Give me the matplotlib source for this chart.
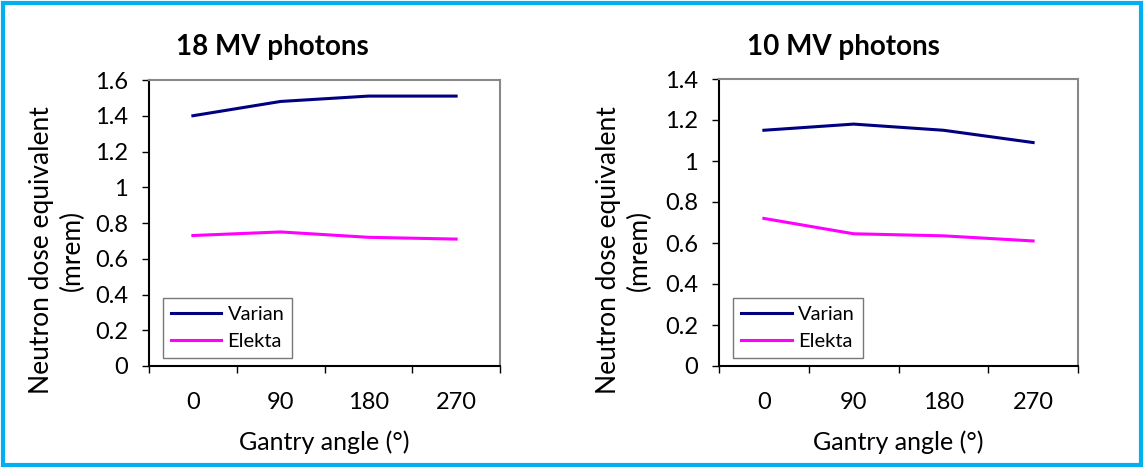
import matplotlib.pyplot as plt
from matplotlib.patches import Rectangle

angles = ["0", "90", "180", "270"]
varian_18 = [1.40, 1.48, 1.51, 1.51]
elekta_18 = [0.73, 0.75, 0.72, 0.71]
varian_10 = [1.15, 1.18, 1.15, 1.09]
elekta_10 = [0.72, 0.645, 0.635, 0.61]

plt.rcParams['font.family'] = ['Lato', 'DejaVu Sans']

W, H = 1144, 467
fig = plt.figure(figsize=(W / 100, H / 100), dpi=100)

def px(x0, y0, x1, y1):
    return [x0 / W, 1 - y1 / H, (x1 - x0) / W, (y1 - y0) / H]

def panel(rect, varian, elekta, ymax, title, title_x, ylab_x):
    ax = fig.add_axes(px(*rect))
    xs = range(len(angles))
    ax.plot(xs, varian, color="#000080", lw=2.2, label="Varian")
    ax.plot(xs, elekta, color="#FF00FF", lw=2.2, label="Elekta")
    ax.set_xlim(-0.5, len(angles) - 0.5)
    ax.set_ylim(0, ymax)
    n = int(round(ymax / 0.2))
    ax.set_yticks([i * 0.2 for i in range(n + 1)])
    ax.set_yticklabels([("%g" % round(i * 0.2, 1)) for i in range(n + 1)])
    ax.set_xticks(list(xs))
    ax.set_xticklabels(angles)
    ax.set_xticks([i - 0.5 for i in range(len(angles) + 1)], minor=True)
    ax.tick_params(axis="x", which="major", length=0, pad=19, labelsize=17)
    ax.tick_params(axis="x", which="minor", length=5, width=1)
    ax.tick_params(axis="y", length=5, width=1, labelsize=17, pad=10)
    for s in ["top", "right"]:
        ax.spines[s].set_color("#888888")
        ax.spines[s].set_linewidth(1.5)
    for s in ["left", "bottom"]:
        ax.spines[s].set_linewidth(1.5)
    ax.set_xlabel("Gantry angle (°)", fontsize=18, labelpad=12)
    leg = ax.legend(loc="lower left", bbox_to_anchor=(0.04, 0.028), fontsize=14.5,
                    frameon=True, fancybox=False, edgecolor="#555555",
                    handlelength=2.5, handletextpad=0.3, borderpad=0.4,
                    labelspacing=0.5, borderaxespad=0)
    leg.get_frame().set_linewidth(1)
    fig.text(title_x / W, 1 - 47 / H, title, fontsize=20, fontweight="bold",
             ha="center", va="center")
    fig.text(ylab_x / W, 1 - 250 / H, "Neutron dose equivalent\n(mrem)",
             fontsize=19, rotation=90, ha="center", va="center",
             multialignment="center", linespacing=1.25)
    return ax

panel((149, 80, 500, 366), varian_18, elekta_18, 1.6, "18 MV photons", 272, 57)
panel((719, 79, 1078, 366), varian_10, elekta_10, 1.4, "10 MV photons", 843, 624)

fig.patches.append(Rectangle((0.003, 0.005), 0.994, 0.988, transform=fig.transFigure,
                             fill=False, edgecolor="#00B0F0", lw=3))

fig.savefig("out.png", dpi=100)
